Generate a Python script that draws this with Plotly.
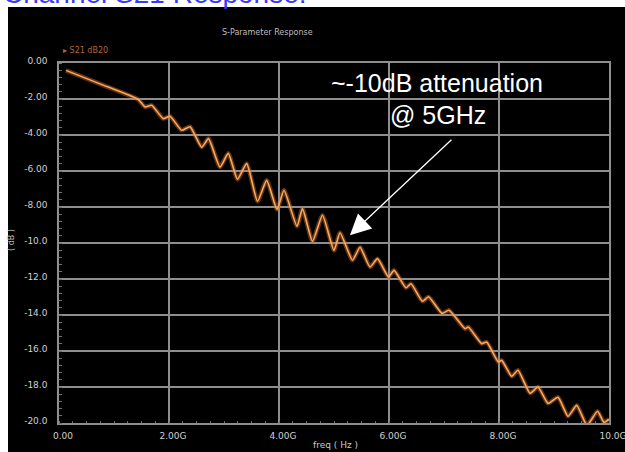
import plotly.graph_objects as go

# S21 magnitude of the channel (dB20) versus frequency (GHz)
freq_ghz = [0.127, 0.745, 1.442, 1.564, 1.685, 1.896, 2.018, 2.231, 2.382, 2.595,
            2.718, 2.927, 3.078, 3.245, 3.413, 3.609, 3.776, 3.964, 4.091, 4.327,
            4.427, 4.609, 4.791, 5.000, 5.109, 5.336, 5.473, 5.655, 5.791, 5.991,
            6.091, 6.309, 6.400, 6.609, 6.718, 6.964, 7.091, 7.382, 7.442, 7.685,
            7.776, 7.987, 8.049, 8.231, 8.345, 8.564, 8.709, 8.891, 9.073, 9.255,
            9.413, 9.600, 9.791, 9.909, 10.000]
s21_db = [-0.41, -1.16, -2.03, -2.44, -2.35, -3.09, -2.96, -3.74, -3.54, -4.68,
          -4.20, -5.78, -5.02, -6.46, -5.59, -7.68, -6.52, -8.13, -7.07, -9.07,
          -8.09, -9.91, -8.46, -10.41, -9.43, -10.96, -10.24, -11.33, -10.87, -11.89,
          -11.52, -12.49, -12.26, -13.24, -12.99, -13.91, -13.74, -14.76, -14.67, -15.59,
          -15.50, -16.61, -16.52, -17.41, -17.07, -18.35, -18.00, -18.91, -18.57, -19.63,
          -19.02, -20.13, -19.35, -19.96, -19.79]

y_tick_vals = [0, -2, -4, -6, -8, -10, -12, -14, -16, -18, -20]
y_tick_text = ["0.00", "-2.00", "-4.00", "-6.00", "-8.00", "-10.0",
               "-12.0", "-14.0", "-16.0", "-18.0", "-20.0"]
x_tick_vals = [0, 2, 4, 6, 8, 10]
x_tick_text = ["0.00", "2.00G", "4.00G", "6.00G", "8.00G", "10.0G"]

# callout pointing at the 5 GHz region
callout_lines = ["~-10dB attenuation", "@ 5GHz"]
callout_tip = (5.29, -9.57)

W, H = 625, 452
L, R, T, B = 59, 16, 63, 29
PW, PH = W - L - R, H - T - B


def xp(px):
    return (px - L) / PW


def yp(py):
    return (H - B - py) / PH


GRID = "#8e8e8e"
TICKFONT = dict(family="DejaVu Sans", size=9, color="#d0d0d0")

fig = go.Figure()
# soft glow under the trace
fig.add_trace(go.Scatter(x=freq_ghz, y=s21_db, mode="lines",
                         line=dict(color="rgba(225,110,35,0.45)", width=4.5,
                                   shape="spline", smoothing=0.5),
                         hoverinfo="skip", showlegend=False))
fig.add_trace(go.Scatter(x=freq_ghz, y=s21_db, mode="lines",
                         line=dict(color="#f4a964", width=1.6,
                                   shape="spline", smoothing=0.5),
                         name="S21 dB20", showlegend=False))

fig.update_layout(
    width=W, height=H,
    margin=dict(l=L, r=R, t=T, b=B, pad=0, autoexpand=False),
    paper_bgcolor="white",
    plot_bgcolor="black",
    showlegend=False,
    shapes=[dict(type="rect", xref="paper", yref="paper",
                 x0=xp(8), x1=xp(640), y0=yp(470), y1=yp(7),
                 fillcolor="black", line=dict(width=0), layer="below")],
    xaxis=dict(range=[0, 10], tickvals=x_tick_vals, ticktext=x_tick_text,
               automargin=False, ticklabeloverflow="allow",
               showgrid=True, gridcolor=GRID, gridwidth=1.5,
               showline=True, linecolor=GRID, linewidth=1.5, mirror=True,
               zeroline=False, ticks="", tickfont=TICKFONT,
               ticklabelshift=4, ticklabelstandoff=3,
               minor=dict(ticks="inside", ticklen=2, dtick=0.25,
                          tickcolor="#6f6f6f", showgrid=False)),
    yaxis=dict(range=[-20, 0], tickvals=y_tick_vals, ticktext=y_tick_text,
               automargin=False, ticklabeloverflow="allow",
               showgrid=True, gridcolor=GRID, gridwidth=1.5,
               showline=True, linecolor=GRID, linewidth=1.5, mirror=True,
               zeroline=False, ticks="", tickfont=TICKFONT,
               ticklabelstandoff=8, ticklabelshift=-2,
               minor=dict(ticks="inside", ticklen=3, dtick=0.4,
                          tickcolor="#6f6f6f", showgrid=False)),
)

annotations = [
    dict(text="Channel S21 Response:", x=xp(1), y=yp(-7), xanchor="left",
         yanchor="middle", font=dict(family="Liberation Sans", size=28, color="#3a3af2")),
    dict(text="S-Parameter Response", x=xp(267), y=yp(32), xanchor="center",
         yanchor="middle", font=dict(family="DejaVu Sans", size=8, color="#bdbdbd")),
    dict(text="▸ S21 dB20", x=xp(61), y=yp(51), xanchor="left", yanchor="middle",
         font=dict(family="DejaVu Sans", size=8, color="#b8643c")),
    dict(text="( dB )", x=xp(11), y=yp(240), xanchor="center", yanchor="middle",
         textangle=-90, font=dict(family="DejaVu Sans", size=8, color="#bdbdbd")),
    dict(text="freq ( Hz )", x=xp(335), y=yp(445), xanchor="center", yanchor="middle",
         font=dict(family="DejaVu Sans", size=9, color="#c8c8c8")),
    dict(text=callout_lines[0], x=xp(437), y=yp(83), xanchor="center", yanchor="middle",
         font=dict(family="Liberation Sans", size=25, color="white")),
    dict(text=callout_lines[1], x=xp(438), y=yp(115), xanchor="center", yanchor="middle",
         font=dict(family="Liberation Sans", size=25, color="white")),
    dict(text="", x=callout_tip[0], y=callout_tip[1], xref="x", yref="y",
         showarrow=True, ax=103, ay=-97, arrowcolor="white", arrowwidth=1.3,
         arrowhead=2, arrowsize=3.2, standoff=0),
]
for a in annotations:
    a.setdefault("xref", "paper")
    a.setdefault("yref", "paper")
    a.setdefault("showarrow", False)
fig.update_layout(annotations=annotations)

fig.write_html("out.html")
